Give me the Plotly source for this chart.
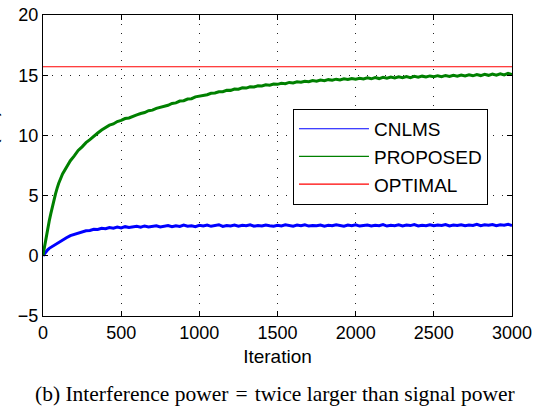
import plotly.graph_objects as go

iterations = [0, 10, 20, 30, 40, 50, 60, 70, 80, 90, 100] + list(range(125, 3001, 25))

cnlms = [
    0.0, 0.2, 0.35, 0.5, 0.62, 0.7, 0.82, 0.9, 1.0, 1.08, 1.15,
    1.35, 1.5, 1.68, 1.78, 1.92, 1.98, 2.08, 2.1, 2.2, 2.18,
    2.28, 2.25, 2.35, 2.3, 2.38, 2.32, 2.42, 2.35, 2.4, 2.45,
    2.38, 2.48, 2.4, 2.44, 2.5, 2.4, 2.47, 2.52, 2.42, 2.5,
    2.44, 2.55, 2.46, 2.5, 2.42, 2.53, 2.47, 2.56, 2.45, 2.5,
    2.58, 2.44, 2.52, 2.48, 2.55, 2.45, 2.53, 2.5, 2.58, 2.46,
    2.52, 2.47, 2.56, 2.5, 2.45, 2.54, 2.48, 2.57, 2.5, 2.46,
    2.55, 2.49, 2.58, 2.47, 2.52, 2.5, 2.56, 2.46, 2.53, 2.49,
    2.57, 2.5, 2.46, 2.55, 2.5, 2.58, 2.47, 2.52, 2.56, 2.48,
    2.54, 2.5, 2.59, 2.47, 2.53, 2.5, 2.57, 2.48, 2.55, 2.51,
    2.6, 2.48, 2.54, 2.5, 2.58, 2.49, 2.55, 2.52, 2.6, 2.48,
    2.56, 2.51, 2.58, 2.5, 2.55, 2.52, 2.62, 2.5, 2.57, 2.53,
    2.6, 2.5, 2.58, 2.54, 2.62, 2.52,
]

proposed = [
    0.05, 0.85, 1.6, 2.3, 2.9, 3.5, 4.1, 4.65, 5.15, 5.6, 6.0,
    6.8, 7.35, 7.9, 8.3, 8.75, 9.05, 9.4, 9.65, 9.95, 10.2,
    10.45, 10.65, 10.85, 10.95, 11.15, 11.25, 11.4, 11.45, 11.6, 11.7,
    11.82, 11.9, 12.05, 12.1, 12.25, 12.32, 12.45, 12.5, 12.65, 12.7,
    12.85, 12.88, 13.02, 13.05, 13.2, 13.25, 13.35, 13.38, 13.5, 13.52,
    13.62, 13.63, 13.75, 13.74, 13.85, 13.84, 13.95, 13.93, 14.04, 14.02,
    14.12, 14.1, 14.2, 14.17, 14.27, 14.24, 14.33, 14.3, 14.4, 14.36,
    14.45, 14.42, 14.5, 14.46, 14.55, 14.5, 14.6, 14.55, 14.63, 14.58,
    14.67, 14.6, 14.7, 14.64, 14.73, 14.67, 14.75, 14.69, 14.78, 14.7,
    14.8, 14.72, 14.82, 14.75, 14.84, 14.77, 14.86, 14.79, 14.88, 14.8,
    14.9, 14.83, 14.92, 14.85, 14.94, 14.87, 14.96, 14.88, 14.98, 14.9,
    15.0, 14.92, 15.02, 14.94, 15.04, 14.95, 15.06, 14.97, 15.08, 14.99,
    15.1, 15.0, 15.12, 15.02, 15.15, 15.05,
]

optimal_x = [0, 3000]
optimal_y = [15.7, 15.7]

series_names = ["CNLMS", "PROPOSED", "OPTIMAL"]
series_colors = ["#0000ff", "#008000", "#ff0000"]

x_ticks = [0, 500, 1000, 1500, 2000, 2500, 3000]
y_ticks = [-5, 0, 5, 10, 15, 20]

SANS = "Liberation Sans, Arial, sans-serif"

fig = go.Figure()
fig.add_trace(go.Scatter(x=iterations, y=cnlms, mode="lines", name=series_names[0],
                         showlegend=False, line=dict(color=series_colors[0], width=3)))
fig.add_trace(go.Scatter(x=iterations, y=proposed, mode="lines", name=series_names[1],
                         showlegend=False, line=dict(color=series_colors[1], width=3)))
fig.add_trace(go.Scatter(x=optimal_x, y=optimal_y, mode="lines", name=series_names[2],
                         showlegend=False, line=dict(color=series_colors[2], width=1.2)))

# legend entries with thin line samples
for name, color in zip(series_names, series_colors):
    fig.add_trace(go.Scatter(x=[None], y=[None], mode="lines", name=name,
                             line=dict(color=color, width=1.2)))

axis_common = dict(
    showline=True, linecolor="black", linewidth=1, mirror="ticks",
    ticks="inside", ticklen=5, tickcolor="black",
    showgrid=True, gridcolor="#222222", gridwidth=1, griddash="1px,8px",
    zeroline=False, automargin=False,
    tickfont=dict(family=SANS, size=18, color="black"),
)

fig.update_xaxes(range=[0, 3000], tickvals=x_ticks, **axis_common,
                 title=dict(text="Iteration", standoff=8,
                            font=dict(family=SANS, size=19, color="black")))
fig.update_yaxes(range=[-5, 20], tickvals=y_ticks, **axis_common)

fig.add_annotation(text="SINR (dB)", textangle=-90, xref="paper", yref="paper",
                   x=-0.113, y=0.54, xanchor="center", yanchor="middle", showarrow=False,
                   font=dict(family=SANS, size=19, color="black"))

fig.add_annotation(text="(b) Interference power\u2004=\u2004twice larger than signal power",
                   xref="paper", yref="paper", x=0.495, y=-0.26, xanchor="center", yanchor="middle",
                   showarrow=False,
                   font=dict(family="Liberation Serif, Times New Roman, serif", size=21.5, color="black"))

fig.update_layout(
    width=552, height=412,
    margin=dict(l=43, r=40, t=15, b=96),
    paper_bgcolor="white", plot_bgcolor="white",
    showlegend=True,
    legend=dict(x=0.533, y=0.688, xanchor="left", yanchor="top",
                bgcolor="white", bordercolor="black", borderwidth=1,
                itemwidth=70, tracegroupgap=0,
                font=dict(family=SANS, size=19, color="black")),
)

fig.write_html("out.html", config={"displayModeBar": False},
               post_script="document.body.style.margin='0';")
